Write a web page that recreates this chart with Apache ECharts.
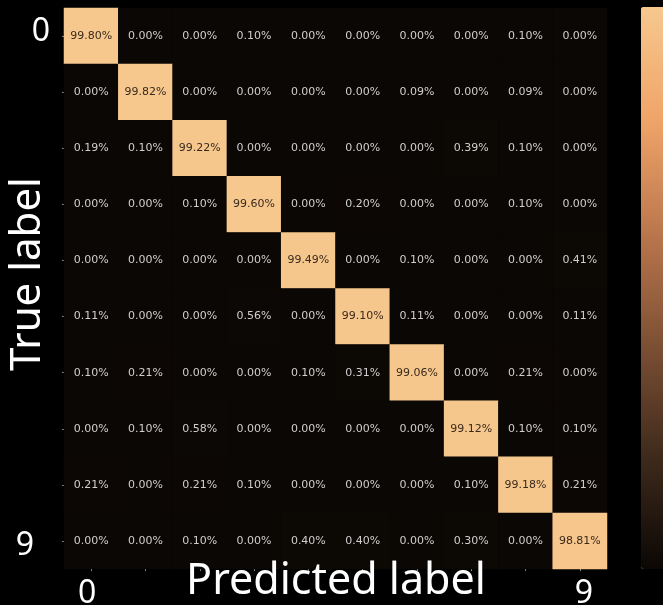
<!DOCTYPE html>
<html>
<head>
<meta charset="utf-8">
<script src="https://cdn.jsdelivr.net/npm/echarts@6/dist/echarts.min.js"></script>
<style>
  html, body { margin: 0; padding: 0; background: #000; }
  #chart { width: 663px; height: 605px; }
</style>
</head>
<body>
<div id="chart"></div>
<script>
// Class labels (digits) and per-true-label row percentages
const classes = ['0', '1', '2', '3', '4', '5', '6', '7', '8', '9'];
const true0 = [99.80, 0.00, 0.00, 0.10, 0.00, 0.00, 0.00, 0.00, 0.10, 0.00];
const true1 = [0.00, 99.82, 0.00, 0.00, 0.00, 0.00, 0.09, 0.00, 0.09, 0.00];
const true2 = [0.19, 0.10, 99.22, 0.00, 0.00, 0.00, 0.00, 0.39, 0.10, 0.00];
const true3 = [0.00, 0.00, 0.10, 99.60, 0.00, 0.20, 0.00, 0.00, 0.10, 0.00];
const true4 = [0.00, 0.00, 0.00, 0.00, 99.49, 0.00, 0.10, 0.00, 0.00, 0.41];
const true5 = [0.11, 0.00, 0.00, 0.56, 0.00, 99.10, 0.11, 0.00, 0.00, 0.11];
const true6 = [0.10, 0.21, 0.00, 0.00, 0.10, 0.31, 99.06, 0.00, 0.21, 0.00];
const true7 = [0.00, 0.10, 0.58, 0.00, 0.00, 0.00, 0.00, 99.12, 0.10, 0.10];
const true8 = [0.21, 0.00, 0.21, 0.10, 0.00, 0.00, 0.00, 0.10, 99.18, 0.21];
const true9 = [0.00, 0.00, 0.10, 0.00, 0.40, 0.40, 0.00, 0.30, 0.00, 98.81];
const shownTicks = ['0', '9'];

const rows = [true0, true1, true2, true3, true4, true5, true6, true7, true8, true9];
const maxVal = Math.max(...rows.flat());

const cells = [];
rows.forEach((row, t) => {
  row.forEach((v, p) => {
    const bright = v > maxVal / 2;
    cells.push({
      value: [p, t, v],
      label: { color: bright ? '#3a2a1c' : '#cfcfcf' }
    });
  });
});

const chart = echarts.init(document.getElementById('chart'), null, { renderer: 'canvas' });
chart.setOption({
  backgroundColor: '#000000',
  animation: false,
  grid: { left: 64, top: 8, width: 543, height: 561, outerBoundsMode: 'none', containLabel: false },
  xAxis: {
    type: 'category',
    data: classes,
    position: 'bottom',
    axisLine: { show: false },
    axisTick: { show: true, alignWithLabel: true, length: 2, lineStyle: { color: '#888', width: 1 } },
    splitLine: { show: false },
    axisLabel: {
      interval: 0,
      margin: 9,
      formatter: v => shownTicks.includes(v) ? '{' + (v === '0' ? 'a' : 'b') + '|' + v + '}' : '',
      rich: {
        a: { color: '#fff', fontSize: 32, fontFamily: 'Noto Sans', padding: [0, 8, 0, 0] },
        b: { color: '#fff', fontSize: 32, fontFamily: 'Noto Sans', padding: [0, 0, 0, 8] }
      }
    }
  },
  yAxis: {
    type: 'category',
    data: classes,
    inverse: true,
    axisLine: { show: false },
    axisTick: { show: true, alignWithLabel: true, length: 2, lineStyle: { color: '#888', width: 1 } },
    splitLine: { show: false },
    axisLabel: {
      interval: 0,
      margin: 14,
      formatter: v => shownTicks.includes(v) ? '{' + (v === '0' ? 'a' : 'b') + '|' + v + '}' : '',
      rich: {
        a: { color: '#fff', fontSize: 32, fontFamily: 'Noto Sans', padding: [0, 0, 8, 0] },
        b: { color: '#fff', fontSize: 32, fontFamily: 'Noto Sans', padding: [10, 16, 0, 0] }
      }
    }
  },
  visualMap: {
    type: 'continuous',
    min: 0,
    max: maxVal,
    calculable: false,
    show: true,
    orient: 'vertical',
    padding: 0,
    left: 641,
    top: 7,
    itemWidth: 30,
    itemHeight: 562,
    text: null,
    inRange: {
      color: ['#0b0704', '#3e2a1c', '#7d5034', '#bb774d', '#f0a468', '#f6c88e']
    }
  },
  graphic: [
    {
      type: 'text',
      z: 100,
      style: {
        text: 'Predicted label',
        fill: '#fff',
        font: '43px "Noto Sans"',
        textAlign: 'center',
        textVerticalAlign: 'middle'
      },
      x: 336, y: 582
    },
    {
      type: 'text',
      z: 100,
      style: {
        text: 'True label',
        fill: '#fff',
        font: '42px "Noto Sans"',
        textAlign: 'center',
        textVerticalAlign: 'middle'
      },
      x: 28, y: 274,
      rotation: Math.PI / 2
    }
  ],
  series: [{
    type: 'heatmap',
    data: cells,
    itemStyle: { borderWidth: 0 },
    label: {
      show: true,
      fontSize: 11,
      fontFamily: 'DejaVu Sans',
      formatter: p => p.value[2].toFixed(2) + '%'
    },
    emphasis: { disabled: true }
  }]
});
</script>
</body>
</html>
